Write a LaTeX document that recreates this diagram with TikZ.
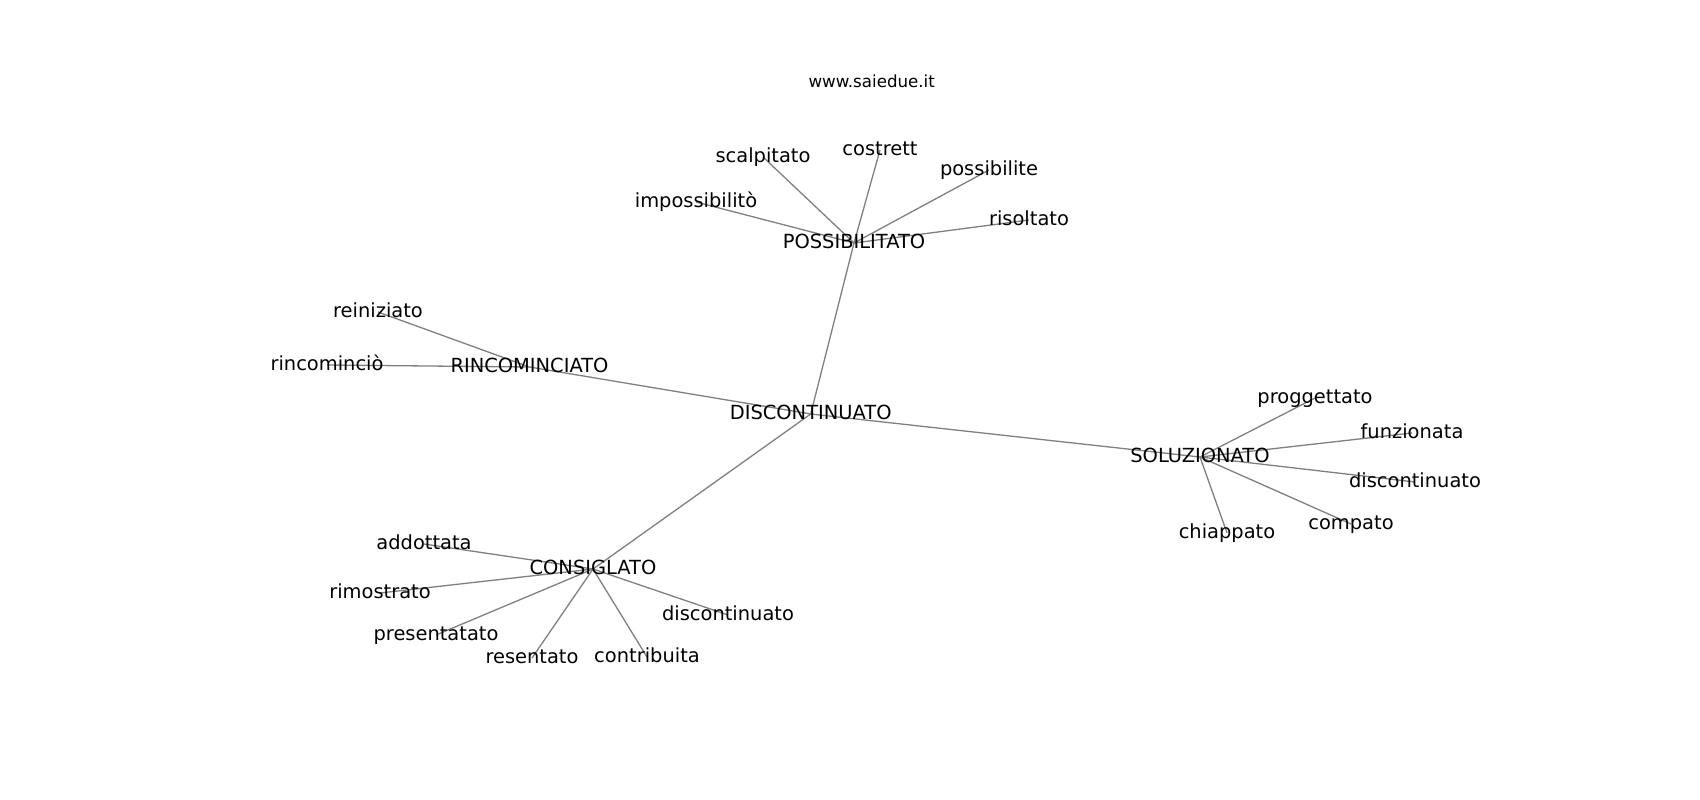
\documentclass[tikz,border=0pt]{standalone}
\usepackage{fontspec}
\setmainfont{DejaVu Sans}
\pgfdeclarelayer{background}
\pgfsetlayers{background,main}
\tikzset{
  lbl/.style={inner sep=0pt, text height=14.8pt, text depth=4.6pt, font=\fontsize{19.44pt}{23pt}\selectfont, text=black},
  ttl/.style={inner sep=0pt, anchor=base, font=\fontsize{16.67pt}{20pt}\selectfont, text=black},
  edge/.style={draw=gray, line width=1.3pt}
}
\begin{document}
\begin{tikzpicture}[x=1pt,y=-1pt]
\useasboundingbox (0,0) rectangle (1700,800);
\node[ttl] (title) at (871.7,88) {www.saiedue.it};
% hubs
\node[lbl] (disc) at (810.7,414) {DISCONTINUATO};
\node[lbl] (poss) at (854,243) {POSSIBILITATO};
\node[lbl] (rinc) at (529.5,367) {RINCOMINCIATO};
\node[lbl] (solu) at (1200,457) {SOLUZIONATO};
\node[lbl] (cons) at (593,569) {CONSIGLATO};
% POSSIBILITATO leaves
\node[lbl] (scal) at (763,157) {scalpitato};
\node[lbl] (cost) at (880,150) {costrett};
\node[lbl] (posl) at (989,170) {possibilite};
\node[lbl] (impo) at (696,202) {impossibilitò};
\node[lbl] (riso) at (1029,220) {risoltato};
% RINCOMINCIATO leaves
\node[lbl] (rein) at (378,312) {reiniziato};
\node[lbl] (rinl) at (327,365) {rincominciò};
% SOLUZIONATO leaves
\node[lbl] (prog) at (1315,398) {proggettato};
\node[lbl] (funz) at (1412,433) {funzionata};
\node[lbl] (disr) at (1415,482) {discontinuato};
\node[lbl] (comp) at (1351,524) {compato};
\node[lbl] (chia) at (1227,533) {chiappato};
% CONSIGLATO leaves
\node[lbl] (addo) at (424,544) {addottata};
\node[lbl] (rimo) at (380,593) {rimostrato};
\node[lbl] (pres) at (436,635) {presentatato};
\node[lbl] (rese) at (532,658) {resentato};
\node[lbl] (cont) at (647,657) {contribuita};
\node[lbl] (disb) at (728,615) {discontinuato};
\begin{pgfonlayer}{background}
\fill[white] (0,0) rectangle (1700,800);
\foreach \a/\b in {disc/poss,disc/rinc,disc/solu,disc/cons,
  poss/scal,poss/cost,poss/posl,poss/impo,poss/riso,
  rinc/rein,rinc/rinl,
  solu/prog,solu/funz,solu/disr,solu/comp,solu/chia,
  cons/addo,cons/rimo,cons/pres,cons/rese,cons/cont,cons/disb}
  \draw[edge] (\a.center) -- (\b.center);
\end{pgfonlayer}
\end{tikzpicture}
\end{document}
